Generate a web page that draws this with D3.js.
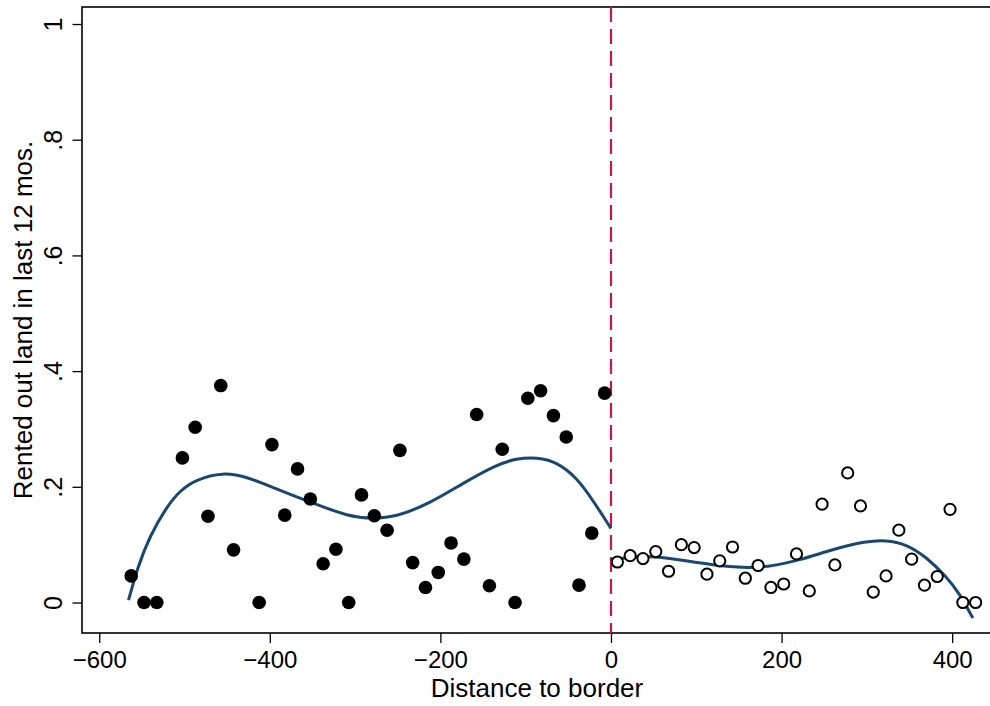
<!DOCTYPE html>
<html>
<head>
<meta charset="utf-8">
<script src="https://cdn.jsdelivr.net/npm/d3@7"></script>
<style>
  body { margin: 0; background: #fff; }
  text { font-family: "Liberation Sans", Arial, Helvetica, sans-serif; fill: #000; }
</style>
</head>
<body>
<div id="chart"></div>
<script>
// binned means, left of the border (filled dots)
const leftX = [-562.5, -547.5, -532.5, -502.5, -487.5, -472.5, -457.5, -442.5, -412.5, -397.5,
  -382.5, -367.5, -352.5, -337.5, -322.5, -307.5, -292.5, -277.5, -262.5, -247.5,
  -232.5, -217.5, -202.5, -187.5, -172.5, -157.5, -142.5, -127.5, -112.5, -97.5,
  -82.5, -67.5, -52.5, -37.5, -22.5, -7.5];
const leftY = [0.046, 0, 0, 0.250, 0.303, 0.149, 0.375, 0.091, 0, 0.273,
  0.151, 0.231, 0.179, 0.067, 0.092, 0, 0.186, 0.150, 0.125, 0.263,
  0.069, 0.026, 0.052, 0.103, 0.075, 0.325, 0.029, 0.265, 0, 0.353,
  0.366, 0.323, 0.286, 0.030, 0.120, 0.362];

// binned means, right of the border (hollow dots)
const rightX = [7.5, 22.5, 37.5, 52.5, 67.5, 82.5, 97.5, 112.5, 127.5, 142.5,
  157.5, 172.5, 187.5, 202.5, 217.5, 232.5, 247.5, 262.5, 277.5, 292.5,
  307.5, 322.5, 337.5, 352.5, 367.5, 382.5, 397.5, 412.5, 427.5];
const rightY = [0.070, 0.081, 0.076, 0.088, 0.054, 0.100, 0.095, 0.049, 0.072, 0.096,
  0.042, 0.064, 0.026, 0.032, 0.084, 0.020, 0.170, 0.065, 0.224, 0.167,
  0.018, 0.046, 0.125, 0.075, 0.030, 0.045, 0.161, 0, 0];

// fitted curves
const fitLeftX = [-565.7, -554.7, -541, -521.5, -505.9, -486.3, -455.1, -427.7, -388.6, -353.5,
  -306.6, -279.2, -251.8, -212.8, -173.7, -134.6, -111.1, -85.8, -64.2, -40.8, -21.3, 0];
const fitLeftY = [0.004, 0.062, 0.114, 0.164, 0.193, 0.213, 0.225, 0.218, 0.194, 0.174,
  0.148, 0.145, 0.148, 0.171, 0.206, 0.238, 0.249, 0.251, 0.243, 0.217, 0.177, 0.128];
const fitRightX = [0.2, 21.7, 53, 84.2, 123.3, 154.5, 182, 221, 260, 299.2,
  322.6, 346, 369.5, 393, 408.6, 424.2];
const fitRightY = [0.072, 0.080, 0.080, 0.073, 0.064, 0.060, 0.061, 0.073, 0.092, 0.106,
  0.108, 0.101, 0.079, 0.045, 0.016, -0.027];

const xTicks = [-600, -400, -200, 0, 200, 400];
const yTicks = [0, 0.2, 0.4, 0.6, 0.8, 1];
const xTitle = "Distance to border";
const yTitle = "Rented out land in last 12 mos.";

const W = 990, H = 706;
const box = { left: 82, right: 992, top: 7, bottom: 633 };

const svg = d3.select("#chart").append("svg")
  .attr("width", W).attr("height", H);

const x = d3.scaleLinear().domain([-620.2, 446.7]).range([box.left, box.right]);
const y = d3.scaleLinear().domain([-0.0527, 1.0294]).range([box.bottom, box.top]);

const navy = "#1a476f";
const red = "#c8174a";

// frame
svg.append("rect")
  .attr("x", box.left).attr("y", box.top)
  .attr("width", box.right - box.left).attr("height", box.bottom - box.top)
  .attr("fill", "none").attr("stroke", "#000").attr("stroke-width", 1.6);

// x axis
const fmtX = d => (d < 0 ? "\u2212" + Math.abs(d) : d);
const xAxis = svg.append("g")
  .attr("transform", `translate(0,${box.bottom})`)
  .call(d3.axisBottom(x).tickValues(xTicks).tickSize(10).tickFormat(fmtX));
xAxis.select(".domain").remove();
xAxis.selectAll("line").attr("stroke", "#000").attr("stroke-width", 1.3);
xAxis.selectAll("text")
  .attr("y", 35).attr("dy", null)
  .style("font-size", "24px").attr("fill", "#000");

// y axis, labels turned like the original (each tick g is already at y(d))
const fmtY = d => (d === 0 ? "0" : d === 1 ? "1" : d3.format(".1f")(d).replace(/^0/, ""));
const yAxis = svg.append("g")
  .attr("transform", `translate(${box.left},0)`)
  .call(d3.axisLeft(y).tickValues(yTicks).tickSize(9.5).tickFormat(fmtY));
yAxis.select(".domain").remove();
yAxis.selectAll("line").attr("stroke", "#000").attr("stroke-width", 1.3);
yAxis.selectAll("text")
  .attr("x", null).attr("dy", null)
  .attr("text-anchor", "middle")
  .attr("transform", "translate(-20,0) rotate(-90)")
  .style("font-size", "25px").attr("fill", "#000");

// titles
svg.append("text")
  .attr("x", (box.left + box.right) / 2).attr("y", 697)
  .attr("text-anchor", "middle").style("font-size", "26px")
  .text(xTitle);
svg.append("text")
  .attr("transform", "translate(32,320) rotate(-90)")
  .attr("text-anchor", "middle").style("font-size", "26px")
  .text(yTitle);

// cutoff line
svg.append("line")
  .attr("x1", x(0)).attr("x2", x(0))
  .attr("y1", box.top).attr("y2", box.bottom)
  .attr("stroke", red).attr("stroke-width", 2.2)
  .attr("stroke-dasharray", "15,7");

// fitted lines (basis smooths out small reading errors)
const line = d3.line().x(d => x(d[0])).y(d => y(d[1])).curve(d3.curveBasis);
svg.append("path")
  .datum(d3.zip(fitLeftX, fitLeftY))
  .attr("d", line).attr("fill", "none")
  .attr("stroke", navy).attr("stroke-width", 3);
svg.append("path")
  .datum(d3.zip(fitRightX, fitRightY))
  .attr("d", line).attr("fill", "none")
  .attr("stroke", navy).attr("stroke-width", 3);

// dots
svg.selectAll(".dotL")
  .data(d3.zip(leftX, leftY))
  .enter().append("circle")
  .attr("class", "dotL")
  .attr("cx", d => x(d[0])).attr("cy", d => y(d[1]))
  .attr("r", 6.8).attr("fill", "#000");

svg.selectAll(".dotR")
  .data(d3.zip(rightX, rightY))
  .enter().append("circle")
  .attr("class", "dotR")
  .attr("cx", d => x(d[0])).attr("cy", d => y(d[1]))
  .attr("r", 5.6).attr("fill", "#fff")
  .attr("stroke", "#000").attr("stroke-width", 2);
</script>
</body>
</html>
